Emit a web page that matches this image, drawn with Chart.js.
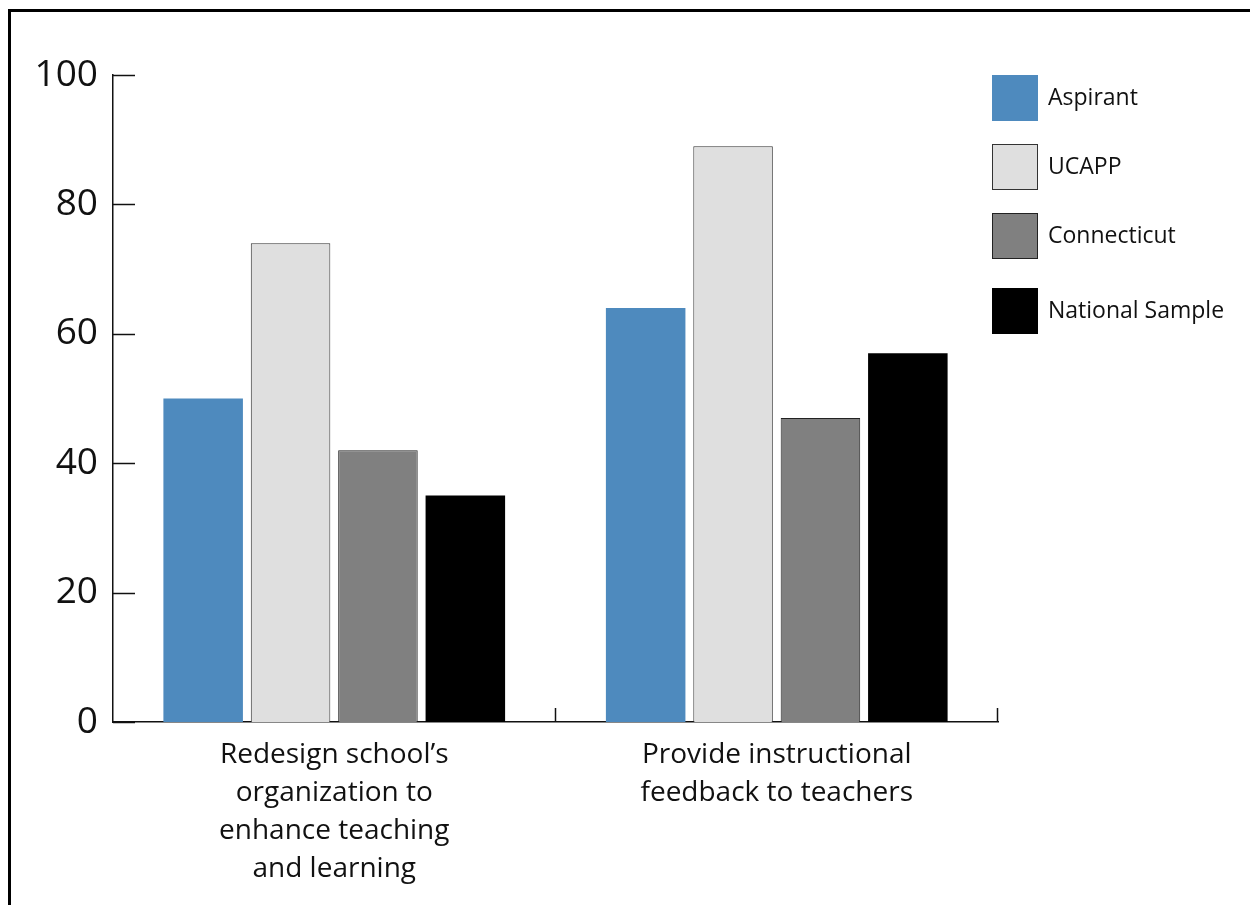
<!DOCTYPE html>
<html>
<head>
<meta charset="utf-8">
<script src="https://cdn.jsdelivr.net/npm/chart.js@4.4.1/dist/chart.umd.min.js"></script>
<style>
    html, body { margin: 0; padding: 0; background: #fff; overflow: hidden; }
    .frame {
        position: absolute; left: 8px; top: 9px;
        width: 1300px; height: 1000px;
        border: 3px solid #000;
    }
    .chart-box { position: absolute; left: 0; top: 0; width: 1250px; height: 905px; }
</style>
</head>
<body>
<div class="frame"></div>
<div class="chart-box"><canvas id="skillsChart" width="1250" height="905"></canvas></div>
<script>
// 資料
const categories = [
    ['Redesign school\u2019s', 'organization to', 'enhance teaching', 'and learning'],
    ['Provide instructional', 'feedback to teachers']
];
const seriesNames = ['Aspirant', 'UCAPP', 'Connecticut', 'National Sample'];
const aspirant = [50, 64];
const ucapp = [74, 89];
const connecticut = [42, 47];
const nationalSample = [35, 57];
const yTicks = [0, 20, 40, 60, 80, 100];

const FONT = '"Open Sans", "DejaVu Sans", sans-serif';

// 內側刻度線與圖例
const axisMarks = {
    id: 'axisMarks',
    afterDraw(chart) {
        const ctx = chart.ctx;
        const x = chart.scales.x;
        const y = chart.scales.y;
        ctx.save();
        ctx.strokeStyle = '#111';
        ctx.lineWidth = 1.5;
        // y 刻度向右
        yTicks.forEach(v => {
            const py = Math.round(y.getPixelForValue(v)) + 0.5;
            ctx.beginPath();
            ctx.moveTo(chart.chartArea.left, py);
            ctx.lineTo(chart.chartArea.left + 22, py);
            ctx.stroke();
        });
        // x 刻度向上
        const bounds = [];
        for (let i = 1; i < categories.length; i++) {
            bounds.push((x.getPixelForTick(i - 1) + x.getPixelForTick(i)) / 2);
        }
        bounds.push(x.right);
        bounds.forEach(px => {
            const bx = Math.round(px) - 0.5;
            ctx.beginPath();
            ctx.moveTo(bx, chart.chartArea.bottom);
            ctx.lineTo(bx, chart.chartArea.bottom - 14);
            ctx.stroke();
        });

        // 圖例
        const lx = 992, tops = [75, 144, 213, 288], size = 46;
        ctx.font = '23px ' + FONT;
        ctx.textBaseline = 'middle';
        ctx.textAlign = 'left';
        chart.data.datasets.forEach((ds, i) => {
            ctx.fillStyle = ds.backgroundColor;
            ctx.fillRect(lx, tops[i], size, size);
            if (ds.borderWidth) {
                ctx.strokeStyle = ds.borderColor;
                ctx.lineWidth = 1;
                ctx.strokeRect(lx + 0.5, tops[i] + 0.5, size - 1, size - 1);
            }
            ctx.fillStyle = '#111';
            ctx.fillText(ds.label, lx + 56, tops[i] + size / 2);
        });
        ctx.restore();
    }
};

const ctx = document.getElementById('skillsChart');
new Chart(ctx, {
    type: 'bar',
    data: {
        labels: categories,
        datasets: [
            { label: seriesNames[0], data: aspirant, backgroundColor: '#4E8ABE', borderWidth: 0 },
            { label: seriesNames[1], data: ucapp, backgroundColor: '#DFDFDF', borderColor: '#333', borderWidth: 1 },
            { label: seriesNames[2], data: connecticut, backgroundColor: '#808080', borderColor: '#222', borderWidth: 1 },
            { label: seriesNames[3], data: nationalSample, backgroundColor: '#000000', borderWidth: 0 }
        ]
    },
    options: {
        responsive: false,
        animation: false,
        events: [],
        layout: { padding: { left: 20, right: 252, top: 75, bottom: 0 } },
        datasets: {
            bar: { categoryPercentage: 0.79, barPercentage: 0.91 }
        },
        plugins: {
            legend: { display: false },
            tooltip: { enabled: false }
        },
        scales: {
            x: {
                grid: { display: false, drawTicks: false },
                border: { display: true, color: '#111', width: 1.5 },
                ticks: {
                    color: '#111',
                    padding: 14,
                    font: { family: FONT, size: 28, lineHeight: 1.36 }
                },
                afterFit(scale) { scale.height = 905 - 722; }
            },
            y: {
                min: 0,
                max: 100,
                afterBuildTicks(scale) { scale.ticks = yTicks.map(v => ({ value: v })); },
                grid: { display: false, drawTicks: false },
                border: { display: true, color: '#111', width: 1.5 },
                ticks: {
                    color: '#111',
                    padding: 15,
                    font: { family: FONT, size: 37 }
                },
                afterFit(scale) { scale.width = 113 - 20; }
            }
        }
    },
    plugins: [axisMarks]
});
</script>
</body>
</html>
